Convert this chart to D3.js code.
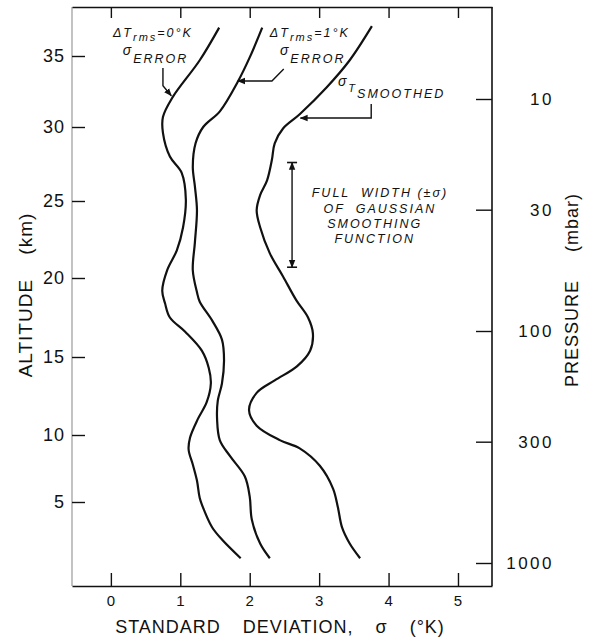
<!DOCTYPE html>
<html>
<head>
<meta charset="utf-8">
<script src="https://cdn.jsdelivr.net/npm/d3@7"></script>
<style>
  body { margin: 0; background: #fff; }
  svg { font-family: "Liberation Sans", Arial, sans-serif; }
  .note { font-style: italic; font-size: 12.5px; letter-spacing: 2px; fill: #111; }
</style>
</head>
<body>
<div id="chart"></div>
<script>
// Standard deviation (°K) vs altitude (km)
// each point is [sigma, altitudeKm]
const errorRms0 = [
  [1.56, 37.0], [1.28, 34.7], [0.89, 32.1], [0.75, 30.7], [0.75, 29.6], [0.85, 28.0],
  [1.02, 26.9], [1.08, 25.1], [1.04, 23.3], [0.95, 21.8], [0.81, 20.5], [0.74, 19.2],
  [0.78, 18.4], [0.85, 17.5], [1.07, 16.6], [1.31, 15.4], [1.41, 14.3], [1.44, 13.3],
  [1.38, 12.1], [1.25, 11.0], [1.14, 9.8], [1.12, 8.9], [1.18, 7.8], [1.24, 6.6],
  [1.28, 5.3], [1.35, 4.3], [1.46, 3.1], [1.60, 2.2], [1.87, 0.8]
];
const errorRms1 = [
  [2.18, 37.0], [2.00, 34.9], [1.83, 33.2], [1.57, 31.1], [1.33, 30.0], [1.22, 28.9],
  [1.18, 27.3], [1.21, 26.0], [1.24, 24.4], [1.21, 22.3], [1.18, 20.5], [1.24, 19.1],
  [1.28, 18.5], [1.46, 17.3], [1.60, 16.1], [1.63, 14.8], [1.60, 13.3], [1.54, 12.2],
  [1.53, 11.0], [1.57, 9.6], [1.72, 8.4], [1.93, 6.9], [2.00, 5.4], [2.03, 3.7],
  [2.15, 1.9], [2.29, 0.8]
];
const smoothed = [
  [3.76, 37.1], [3.44, 34.7], [3.11, 32.8], [2.72, 30.9], [2.48, 29.9], [2.36, 28.9],
  [2.32, 27.8], [2.25, 26.4], [2.15, 25.4], [2.10, 24.4], [2.15, 23.3], [2.29, 21.6],
  [2.48, 20.1], [2.67, 18.6], [2.84, 17.5], [2.91, 16.5], [2.87, 15.4], [2.68, 14.4],
  [2.36, 13.5], [2.10, 12.7], [1.99, 11.6], [2.10, 10.6], [2.44, 9.6], [2.72, 9.0],
  [3.01, 7.7], [3.20, 6.0], [3.27, 4.6], [3.33, 3.1], [3.44, 1.9], [3.59, 0.8]
];

const sigmaTicks = [0, 1, 2, 3, 4, 5];
const altTicks = [5, 10, 15, 20, 25, 30, 35];
const pressureTicks = [10, 30, 100, 300, 1000];

// gaussian smoothing full width, altitude km
const smoothingWidth = [20.7, 27.6];

const margin = { top: 7, right: 100, bottom: 54, left: 72 };
const width = 592 - margin.left - margin.right;
const height = 640 - margin.top - margin.bottom;

const svg = d3.select('#chart')
  .append('svg')
  .attr('width', 592)
  .attr('height', 640);

const defs = svg.append('defs');
defs.append('marker')
  .attr('id', 'head')
  .attr('viewBox', '0 0 10 10')
  .attr('refX', 9).attr('refY', 5)
  .attr('markerWidth', 8).attr('markerHeight', 8)
  .attr('markerUnits', 'userSpaceOnUse')
  .attr('orient', 'auto-start-reverse')
  .append('path')
  .attr('d', 'M0,1L10,5L0,9Z')
  .attr('fill', '#111');

const g = svg.append('g')
  .attr('transform', `translate(${margin.left},${margin.top})`);

const x = d3.scaleLinear().domain([-0.56, 5.49]).range([0, width]);
// altitude ticks are not evenly spaced (the chart is linear in log pressure)
const alt = d3.scaleLinear()
  .domain([5, 10, 15, 20, 25, 30, 35])
  .range([495, 428, 350, 271, 194, 120, 49]);
const pres = d3.scaleLog().domain([10, 1000]).range([92, 556]);

// Frame sides (left one is faint in the original)
g.append('line')
  .attr('x1', 0).attr('x2', 0).attr('y1', 0).attr('y2', height)
  .attr('stroke', '#9a9a9a').attr('stroke-width', 1.2);
g.append('line')
  .attr('x1', width).attr('x2', width).attr('y1', 0).attr('y2', height)
  .attr('stroke', '#111').attr('stroke-width', 1.6);

// Axes
const bottomAxis = g.append('g')
  .attr('transform', `translate(0,${height})`)
  .call(d3.axisBottom(x).tickValues(sigmaTicks).tickFormat(d3.format('d'))
    .tickSizeInner(-13).tickSizeOuter(0).tickPadding(9));

const topAxis = g.append('g')
  .call(d3.axisTop(x).tickValues(sigmaTicks).tickSizeInner(-11).tickSizeOuter(0).tickFormat(''));

const leftAxis = g.append('g')
  .call(d3.axisLeft(alt).tickValues(altTicks).tickSizeInner(-13).tickSizeOuter(0).tickPadding(7));

const rightAxis = g.append('g')
  .attr('transform', `translate(${width},0)`)
  .call(d3.axisRight(pres).tickValues(pressureTicks).tickFormat(d3.format('d')).tickSizeInner(-16).tickSizeOuter(0));

rightAxis.selectAll('text').attr('x', 62).attr('text-anchor', 'end');
leftAxis.select('.domain').remove();
rightAxis.select('.domain').remove();

[bottomAxis, topAxis, leftAxis, rightAxis].forEach(a => {
  a.attr('font-family', null).attr('font-size', null);
  a.selectAll('.domain').attr('stroke', '#111').attr('stroke-width', 1.6);
  a.selectAll('.tick line').attr('stroke', '#111').attr('stroke-width', 1.4);
  a.selectAll('text').attr('fill', '#111');
});
bottomAxis.selectAll('text').style('font-size', '15px').style('letter-spacing', '1px');
leftAxis.selectAll('text').style('font-size', '18px').style('letter-spacing', '1px');
rightAxis.selectAll('text').style('font-size', '17px').style('letter-spacing', '2.5px');

// Curves
const line = d3.line()
  .x(d => x(d[0]))
  .y(d => alt(d[1]))
  .curve(d3.curveCatmullRom.alpha(0.5));

[errorRms0, errorRms1, smoothed].forEach(series => {
  g.append('path')
    .datum(series)
    .attr('fill', 'none')
    .attr('stroke', '#111')
    .attr('stroke-width', 2.2)
    .attr('d', line);
});

// Leader arrows (sigma, km)
const arrow = d3.line().x(d => x(d[0])).y(d => alt(d[1]));
const leaders = [
  [[0.75, 34.15], [0.75, 32.9], [0.87, 32.2]],
  [[2.49, 34.08], [2.32, 33.24], [1.83, 33.24]],
  [[3.75, 31.62], [3.75, 30.63], [2.73, 30.63]]
];
leaders.forEach(pts => {
  g.append('path')
    .attr('d', arrow(pts))
    .attr('fill', 'none')
    .attr('stroke', '#111')
    .attr('stroke-width', 1.4)
    .attr('marker-end', 'url(#head)');
});

// Smoothing width double arrow
const wx = x(2.61);
g.append('line')
  .attr('x1', wx).attr('x2', wx)
  .attr('y1', alt(smoothingWidth[1])).attr('y2', alt(smoothingWidth[0]))
  .attr('stroke', '#111').attr('stroke-width', 1.4)
  .attr('marker-start', 'url(#head)')
  .attr('marker-end', 'url(#head)');
smoothingWidth.forEach(v => {
  g.append('line')
    .attr('x1', wx - 5).attr('x2', wx + 5)
    .attr('y1', alt(v)).attr('y2', alt(v))
    .attr('stroke', '#111').attr('stroke-width', 1.6);
});

// Notes
function note(sv, av, parts, anchor) {
  const t = g.append('text')
    .attr('class', 'note')
    .attr('x', x(sv))
    .attr('y', alt(av))
    .attr('text-anchor', anchor || 'start');
  parts.forEach(p => {
    const s = t.append('tspan').text(p.t);
    if (p.dy) s.attr('dy', p.dy);
    if (p.x !== undefined) s.attr('x', x(p.x));
    if (p.size) s.style('font-size', p.size);
  });
  return t;
}

note(0.03, 36.34, [{ t: 'ΔT' }, { t: 'rms', dy: 4, size: '11px' }, { t: '=0°K', dy: -4 }]);
note(0.17, 35.07, [{ t: 'σ', size: '14px' }, { t: 'ERROR', dy: 8 }]);
note(2.29, 36.34, [{ t: 'ΔT' }, { t: 'rms', dy: 4, size: '11px' }, { t: '=1°K', dy: -4 }]);
note(2.435, 35.07, [{ t: 'σ', size: '14px' }, { t: 'ERROR', dy: 8 }]);
note(3.27, 32.89, [{ t: 'σ', size: '14px' }, { t: 'T', dy: 6, size: '11px' }, { t: 'SMOOTHED', dy: 6 }]);
note(3.876, 25.27, [
  { t: 'FULL  WIDTH (±σ)' },
  { t: 'OF  GAUSSIAN', dy: 16, x: 3.876 },
  { t: 'SMOOTHING', dy: 15, x: 3.80 },
  { t: 'FUNCTION', dy: 15, x: 3.80 }
], 'middle').attr('xml:space', 'preserve');

// Axis titles
svg.append('text')
  .attr('x', 280).attr('y', 633)
  .attr('text-anchor', 'middle')
  .style('font-size', '18px')
  .style('letter-spacing', '1px')
  .style('word-spacing', '16px')
  .attr('fill', '#111')
  .text('STANDARD DEVIATION, σ (°K)');

svg.append('text')
  .attr('transform', 'translate(32,295) rotate(-90)')
  .attr('text-anchor', 'middle')
  .style('font-size', '19px')
  .style('letter-spacing', '1px')
  .style('word-spacing', '18px')
  .attr('fill', '#111')
  .text('ALTITUDE (km)');

svg.append('text')
  .attr('transform', 'translate(578,290) rotate(-90)')
  .attr('text-anchor', 'middle')
  .style('font-size', '18px')
  .style('letter-spacing', '1px')
  .style('word-spacing', '22px')
  .attr('fill', '#111')
  .text('PRESSURE (mbar)');
</script>
</body>
</html>
